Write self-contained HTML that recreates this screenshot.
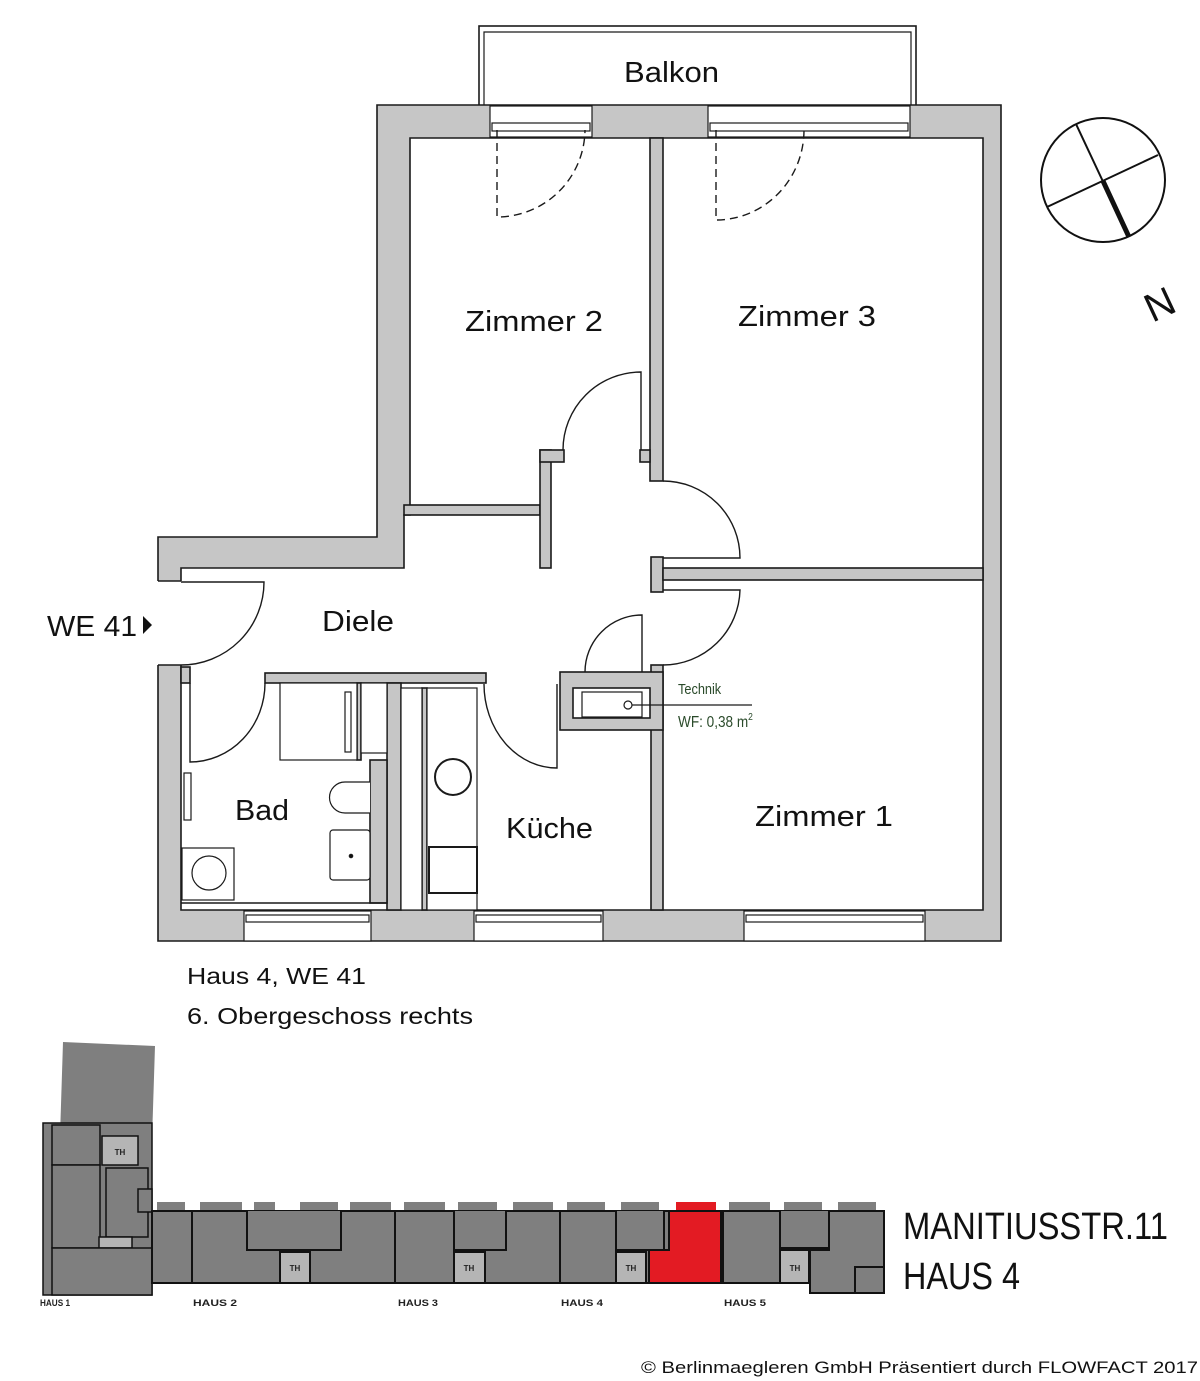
<!DOCTYPE html>
<html><head><meta charset="utf-8"><style>
html,body{margin:0;padding:0;background:#fff;}
svg{display:block;}
text{font-family:"Liberation Sans",sans-serif;}
</style></head><body>
<svg width="1200" height="1381" viewBox="0 0 1200 1381" xmlns="http://www.w3.org/2000/svg">
<g stroke="#1a1a1a" stroke-width="1.6">
<rect x="479" y="26" width="437" height="80" fill="#fff"/>
<path d="M484,105 V32 H911 V105" fill="none" stroke-width="1.2"/>
<path d="M377,105 H1001 V941 H158 V537 H377 Z" fill="#c6c6c6"/>
<path d="M410,138 H983 V910 H181 V568 H404 V515 H410 Z" fill="#fff"/>
<rect x="490" y="106" width="102" height="31" fill="#fff" stroke-width="1.2"/>
<rect x="492" y="123" width="98" height="8" fill="#fff" stroke-width="1.2"/>
<rect x="708" y="106" width="202" height="31" fill="#fff" stroke-width="1.2"/>
<rect x="710" y="123" width="198" height="8" fill="#fff" stroke-width="1.2"/>
<rect x="244" y="911" width="127" height="30" fill="#fff" stroke-width="1.2"/>
<rect x="246" y="915" width="123" height="7" fill="#fff" stroke-width="1.2"/>
<rect x="474" y="911" width="129" height="30" fill="#fff" stroke-width="1.2"/>
<rect x="476" y="915" width="125" height="7" fill="#fff" stroke-width="1.2"/>
<rect x="744" y="911" width="181" height="30" fill="#fff" stroke-width="1.2"/>
<rect x="746" y="915" width="177" height="7" fill="#fff" stroke-width="1.2"/>
<rect x="157" y="581" width="25" height="84" fill="#fff" stroke="none"/>
<line x1="158" y1="581" x2="181" y2="581"/><line x1="158" y1="665" x2="181" y2="665"/>
<rect x="650" y="138" width="13" height="343" fill="#c6c6c6"/>
<rect x="404" y="505" width="136" height="10" fill="#c6c6c6"/>
<rect x="540" y="450" width="11" height="118" fill="#c6c6c6"/>
<rect x="540" y="450" width="24" height="12" fill="#c6c6c6"/>
<rect x="640" y="450" width="10" height="12" fill="#c6c6c6"/>
<rect x="651" y="557" width="12" height="35" fill="#c6c6c6"/>
<rect x="663" y="568" width="320" height="12" fill="#c6c6c6"/>
<rect x="651" y="665" width="12" height="245" fill="#c6c6c6"/>
<rect x="265" y="673" width="221" height="10" fill="#c6c6c6"/>
<rect x="181" y="667" width="9" height="16" fill="#c6c6c6"/>
<rect x="387" y="683" width="14" height="227" fill="#c6c6c6"/>
<rect x="422" y="688" width="5" height="222" fill="#c6c6c6"/>
<rect x="357" y="683" width="4" height="77" fill="#c6c6c6"/>
<rect x="370" y="760" width="17" height="143" fill="#c6c6c6"/>
<line x1="181" y1="903" x2="387" y2="903"/>
<rect x="560" y="672" width="103" height="58" fill="#c6c6c6"/>
<rect x="573" y="688" width="77" height="30" fill="#fff"/>
<rect x="582" y="692" width="60" height="25" fill="#fff" stroke-width="1.2"/>
<circle cx="628" cy="705" r="4" fill="#fff" stroke-width="1.2"/>
<line x1="632" y1="705" x2="752" y2="705" stroke-width="1.2"/>
<rect x="280" y="683" width="77" height="77" fill="#fff" stroke-width="1.2"/>
<rect x="345" y="692" width="6" height="60" fill="#fff" stroke-width="1.2"/>
<rect x="361" y="683" width="26" height="70" fill="#fff" stroke-width="1.2"/>
<path d="M370,782 H345 A15,15 0 0 0 345,813 H370" fill="#fff" stroke-width="1.2"/>
<rect x="330" y="830" width="40" height="50" rx="3" fill="#fff" stroke-width="1.2"/>
<circle cx="351" cy="856" r="1.5" fill="#000"/>
<rect x="182" y="848" width="52" height="52" fill="#fff" stroke-width="1.2"/>
<circle cx="209" cy="873" r="17" fill="#fff" stroke-width="1.2"/>
<rect x="184" y="773" width="7" height="47" fill="#fff" stroke-width="1.2"/>
<rect x="401" y="688" width="21" height="222" fill="#fff" stroke-width="1.2"/>
<rect x="427" y="688" width="50" height="222" fill="#fff" stroke-width="1.2"/>
<circle cx="453" cy="777" r="18" fill="#fff" stroke-width="2"/>
<rect x="429" y="847" width="48" height="46" fill="#fff" stroke-width="2"/>
</g>
<g fill="none" stroke="#1a1a1a" stroke-width="1.4">
<path d="M641,450 V372 A78,78 0 0 0 563,450"/>
<path d="M663,481 A77,77 0 0 1 740,558 H663"/>
<path d="M663,590 H740 A77,77 0 0 1 663,665"/>
<path d="M181,582 H264 A83,83 0 0 1 181,665"/>
<path d="M265,683 A75,79 0 0 1 190,762 V683"/>
<path d="M484,684 A73,84 0 0 0 557,768 V684"/>
<path d="M642,672 V615 A57,57 0 0 0 585,672"/>
<path d="M497,130 V217 A88,88 0 0 0 585,130" stroke-dasharray="8,5"/>
<path d="M716,130 V220 A88,90 0 0 0 804,130" stroke-dasharray="8,5"/>
</g>
<g font-size="29" fill="#111" lengthAdjust="spacingAndGlyphs">
<text x="624" y="82" textLength="95" lengthAdjust="spacingAndGlyphs">Balkon</text>
<text x="465" y="331" textLength="138" lengthAdjust="spacingAndGlyphs">Zimmer 2</text>
<text x="738" y="326" textLength="138" lengthAdjust="spacingAndGlyphs">Zimmer 3</text>
<text x="322" y="631" textLength="72" lengthAdjust="spacingAndGlyphs">Diele</text>
<text x="235" y="820" textLength="54" lengthAdjust="spacingAndGlyphs">Bad</text>
<text x="506" y="838" textLength="87" lengthAdjust="spacingAndGlyphs">Küche</text>
<text x="755" y="826" textLength="138" lengthAdjust="spacingAndGlyphs">Zimmer 1</text>
<text x="47" y="636" textLength="90" lengthAdjust="spacingAndGlyphs">WE 41</text>
</g>
<path d="M143,616 L152,625 L143,634 Z" fill="#111"/>
<text x="678" y="694" font-size="15" fill="#2a4a2a" transform="translate(678,694) scale(0.85,1) translate(-678,-694)">Technik</text>
<text x="678" y="727" font-size="16" fill="#2a4a2a" transform="translate(678,727) scale(0.85,1) translate(-678,-727)">WF: 0,38 m<tspan font-size="10" dy="-7">2</tspan></text>
<text x="187" y="984" font-size="23" fill="#111" textLength="179" lengthAdjust="spacingAndGlyphs">Haus 4, WE 41</text>
<text x="187" y="1024" font-size="23" fill="#111" textLength="286" lengthAdjust="spacingAndGlyphs">6. Obergeschoss rechts</text>
<g stroke="#111" fill="none" stroke-width="2">
<circle cx="1103" cy="180" r="62"/>
<line x1="1076" y1="124" x2="1129" y2="237"/>
<line x1="1103" y1="181" x2="1129" y2="237" stroke-width="5"/>
<line x1="1047" y1="207" x2="1158" y2="155"/>
</g>
<text x="1160" y="318" font-size="40" fill="#111" text-anchor="middle" transform="rotate(-25 1160 305)">N</text>
<g stroke="#111" stroke-width="1.5">
<path d="M63,1042 L155,1046 L152,1140 L60,1136 Z" fill="#7f7f7f" stroke="none"/>
<rect x="43" y="1123" width="109" height="172" fill="#7f7f7f"/>
<rect x="52" y="1125" width="48" height="40" fill="#7f7f7f"/>
<rect x="52" y="1165" width="48" height="83" fill="#7f7f7f"/>
<rect x="102" y="1136" width="36" height="29" fill="#b5b5b5"/>
<rect x="106" y="1168" width="42" height="69" fill="#7f7f7f"/>
<rect x="99" y="1237" width="33" height="11" fill="#b5b5b5"/>
<rect x="138" y="1189" width="14" height="23" fill="#7f7f7f"/>
<rect x="52" y="1248" width="100" height="47" fill="#7f7f7f"/>
</g>
<g fill="#7f7f7f">
<rect x="157" y="1202" width="28" height="9"/><rect x="200" y="1202" width="42" height="9"/>
<rect x="254" y="1202" width="21" height="9"/><rect x="300" y="1202" width="38" height="9"/>
<rect x="350" y="1202" width="41" height="9"/><rect x="404" y="1202" width="41" height="9"/>
<rect x="458" y="1202" width="39" height="9"/><rect x="513" y="1202" width="40" height="9"/>
<rect x="567" y="1202" width="38" height="9"/><rect x="621" y="1202" width="38" height="9"/>
<rect x="676" y="1202" width="40" height="9" fill="#e31b23"/>
<rect x="729" y="1202" width="41" height="9"/><rect x="784" y="1202" width="38" height="9"/>
<rect x="838" y="1202" width="38" height="9"/>
</g>
<g stroke="#111" stroke-width="2">
<rect x="152" y="1211" width="732" height="72" fill="#7f7f7f"/>
<line x1="192" y1="1211" x2="192" y2="1283"/>
<line x1="395" y1="1211" x2="395" y2="1283"/>
<line x1="560" y1="1211" x2="560" y2="1283"/>
<line x1="723" y1="1211" x2="723" y2="1283"/>
<path d="M247,1211 V1250 H341 V1211" fill="#7f7f7f"/>
<rect x="280" y="1252" width="30" height="31" fill="#b5b5b5"/>
<path d="M454,1211 V1250 H506 V1211" fill="#7f7f7f"/>
<rect x="454" y="1252" width="31" height="31" fill="#b5b5b5"/>
<path d="M616,1211 V1250 H664 V1211" fill="#7f7f7f"/>
<rect x="616" y="1252" width="30" height="31" fill="#b5b5b5"/>
<path d="M669,1211 H721 V1283 H649 V1250 H669 Z" fill="#e31b23"/>
<path d="M780,1211 V1248 H829 V1211" fill="#7f7f7f"/>
<rect x="780" y="1250" width="29" height="33" fill="#b5b5b5"/>
<path d="M810,1250 H829 V1211 H884 V1293 H810 Z" fill="#7f7f7f"/>
<path d="M855,1293 V1267 H884" fill="none"/>
</g>
<g font-size="8" font-weight="bold" fill="#222" text-anchor="middle">
<text x="120" y="1155">TH</text><text x="295" y="1271">TH</text><text x="469" y="1271">TH</text>
<text x="631" y="1271">TH</text><text x="795" y="1271">TH</text>
</g>
<g font-size="9" font-weight="bold" fill="#222">
<text x="40" y="1306" textLength="30" lengthAdjust="spacingAndGlyphs">HAUS 1</text>
<text x="193" y="1306" textLength="44" lengthAdjust="spacingAndGlyphs">HAUS 2</text>
<text x="398" y="1306" textLength="40" lengthAdjust="spacingAndGlyphs">HAUS 3</text>
<text x="561" y="1306" textLength="42" lengthAdjust="spacingAndGlyphs">HAUS 4</text>
<text x="724" y="1306" textLength="42" lengthAdjust="spacingAndGlyphs">HAUS 5</text>
</g>
<text x="903" y="1239" font-size="38" fill="#111" textLength="265" lengthAdjust="spacingAndGlyphs">MANITIUSSTR.11</text>
<text x="903" y="1289" font-size="38" fill="#111" textLength="117" lengthAdjust="spacingAndGlyphs">HAUS 4</text>
<text x="641" y="1373" font-size="17" fill="#111" textLength="557" lengthAdjust="spacingAndGlyphs">© Berlinmaegleren GmbH Präsentiert durch FLOWFACT 2017</text>
</svg>
</body></html>
